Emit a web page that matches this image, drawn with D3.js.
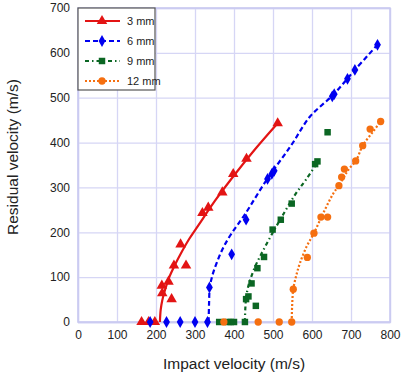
<!DOCTYPE html>
<html>
<head>
<meta charset="utf-8">
<script src="https://cdn.jsdelivr.net/npm/d3@7"></script>
<style>
  body { margin: 0; background: #fff; }
  text { font-family: "Liberation Sans", Arial, sans-serif; fill: #222; }
  .tick text { font-size: 12px; }
  .grid line, .grid path { stroke: #d6d6f5; stroke-width: 1.3; }
</style>
</head>
<body>
<div id="chart"></div>
<script>
// data: [impact velocity, residual velocity]
const seriesNames = ["3 mm", "6 mm", "9 mm", "12 mm"];
const xTicks = [0, 100, 200, 300, 400, 500, 600, 700, 800];
const yTicks = [0, 100, 200, 300, 400, 500, 600, 700];

const pts3 = [[163,0],[181,0],[197,0],[216,64],[215,81],[232,90],[240,51],[246,126],[263,173],[277,126],
  [319,243],[334,255],[370,289],[398,330],[432,364],[512,443]];
const pts6 = [[185,0],[227,0],[262,0],[300,0],[332,0],[337,77],[394,151],[431,228],[486,319],[497,330],
  [503,337],[652,503],[657,508],[691,542],[710,562],[768,618]];
const pts9 = [[362,0],[385,0],[392,0],[400,0],[428,0],[431,51],[437,57],[445,86],[456,36],[460,120],
  [477,145],[499,206],[520,228],[548,264],[608,352],[614,358],[640,423]];
const pts12 = [[374,0],[462,0],[516,0],[548,0],[552,73],[588,144],[605,198],[623,234],[640,234],[669,304],
  [676,323],[683,341],[712,359],[730,393],[749,430],[776,447]];

// fitted curves
const fit3 = [[210,0],[212,27],[216,48],[222,68],[234,100],[250,130],[262,150],[285,185],[309,216],
  [351,270],[403,330],[454,385],[512,443]];
const fit6 = [[335,0],[336,40],[338,77],[345,105],[357,135],[372,165],[392,195],[428,240],[486,320],
  [546,393],[595,458],[655,507],[710,562],[770,620]];
const fit9 = [[428,0],[429,30],[432,60],[440,90],[455,125],[475,160],[500,200],[525,238],[556,283],
  [585,318],[616,358]];
const fit12 = [[548,0],[549,35],[552,73],[560,105],[569,131],[586,168],[605,198],[629,243],[655,287],
  [669,304],[693,339],[714,362],[730,393],[757,425],[776,447]];

const W = 402, H = 377;
const x = d3.scaleLinear().domain([0, 800]).range([78, 390]);
const y = d3.scaleLinear().domain([0, 700]).range([322, 8]);

const svg = d3.select("#chart").append("svg").attr("width", W).attr("height", H);

// grid
svg.append("g").attr("class", "grid")
  .attr("transform", `translate(0,${y(0)})`)
  .call(d3.axisBottom(x).tickValues(xTicks).tickSize(-(y(0) - y(700))).tickFormat(""));
svg.append("g").attr("class", "grid")
  .attr("transform", `translate(${x(0)},0)`)
  .call(d3.axisLeft(y).tickValues(yTicks).tickSize(-(x(800) - x(0))).tickFormat(""));
svg.append("rect")
  .attr("x", x(0)).attr("y", y(700))
  .attr("width", x(800) - x(0)).attr("height", y(0) - y(700))
  .attr("fill", "none").attr("stroke", "#c8c8f0").attr("stroke-width", 1.5);

// tick labels
const xa = svg.append("g").attr("transform", `translate(0,${y(0)})`)
  .call(d3.axisBottom(x).tickValues(xTicks).tickSize(0).tickPadding(8));
const ya = svg.append("g").attr("transform", `translate(${x(0)},0)`)
  .call(d3.axisLeft(y).tickValues(yTicks).tickSize(0).tickPadding(8));
xa.select(".domain").remove();
ya.select(".domain").remove();
svg.selectAll(".tick text").attr("fill", "#222");

svg.append("text").attr("x", 234).attr("y", 369).attr("text-anchor", "middle")
  .style("font-size", "15.5px").text("Impact velocity (m/s)");
svg.append("text").attr("transform", "translate(18,157) rotate(-90)")
  .attr("text-anchor", "middle").style("font-size", "15.5px").text("Residual velocity (m/s)");

const styles = [
  { color: "#e31414", dash: null, marker: d3.symbolTriangle, size: 48, pts: pts3, fit: fit3 },
  { color: "#0000f0", dash: "5,3", marker: d3.symbolDiamond, size: 40, pts: pts6, fit: fit6 },
  { color: "#0b6623", dash: "4,3,1.5,3", marker: d3.symbolSquare, size: 42, pts: pts9, fit: fit9 },
  { color: "#f56f10", dash: "2,2", marker: d3.symbolCircle, size: 42, pts: pts12, fit: fit12 }
];

const line = d3.line().x(d => x(d[0])).y(d => y(d[1])).curve(d3.curveCatmullRom);

styles.forEach(s => {
  svg.append("path").datum(s.fit)
    .attr("d", line).attr("fill", "none")
    .attr("stroke", s.color).attr("stroke-width", 2.2)
    .attr("stroke-dasharray", s.dash);
  svg.append("g").selectAll("path").data(s.pts).enter().append("path")
    .attr("transform", d => `translate(${x(d[0])},${y(d[1])})`)
    .attr("d", d3.symbol().type(s.marker).size(s.size))
    .attr("fill", s.color);
});

// legend
const lg = svg.append("g");
lg.append("rect").attr("x", x(0)).attr("y", y(700))
  .attr("width", 77).attr("height", 82)
  .attr("fill", "#fff").attr("stroke", "#555").attr("stroke-width", 1.2);
styles.forEach((s, i) => {
  const ly = 21 + i * 20;
  lg.append("line").attr("x1", 85).attr("x2", 120).attr("y1", ly).attr("y2", ly)
    .attr("stroke", s.color).attr("stroke-width", 2.2).attr("stroke-dasharray", s.dash);
  lg.append("path").attr("transform", `translate(102,${ly})`)
    .attr("d", d3.symbol().type(s.marker).size(s.size)).attr("fill", s.color);
  lg.append("text").attr("x", 127).attr("y", ly + 4)
    .style("font-size", "11px").text(seriesNames[i]);
});
</script>
</body>
</html>
